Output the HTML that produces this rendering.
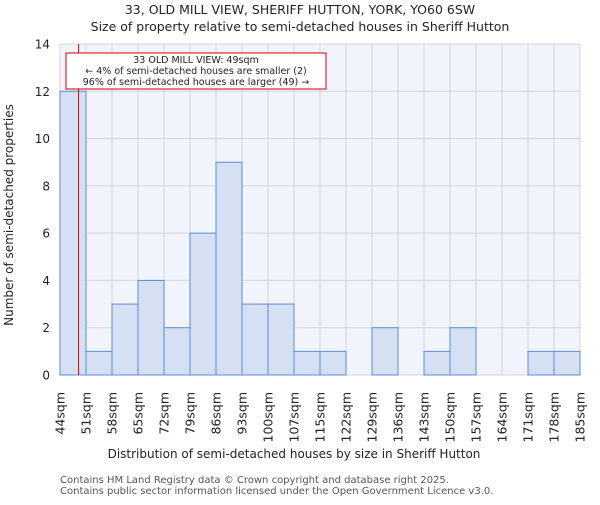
<!DOCTYPE html>
<html><head><meta charset="utf-8"><style>
body{margin:0;background:#fff;}
svg text{font-family:"DejaVu Sans","Liberation Sans",sans-serif;fill:#222;}
</style></head><body>
<svg width="600" height="500" xmlns="http://www.w3.org/2000/svg">
<text x="300" y="14" font-size="12.5" text-anchor="middle">33, OLD MILL VIEW, SHERIFF HUTTON, YORK, YO60 6SW</text>
<text x="300" y="31" font-size="12.5" text-anchor="middle">Size of property relative to semi-detached houses in Sheriff Hutton</text>
<rect x="60" y="44" width="520" height="331" fill="#f1f4fc"/>
<g id="grid"></g>
<g id="bars"></g>
<g id="yticks"></g>
<g id="xticks"></g>
<line id="marker" y1="44" y2="375" stroke="#d00" stroke-width="1"/>
<g>
<rect x="66" y="53" width="260" height="36" fill="#fff" stroke="#c00" stroke-width="1"/>
<text x="196" y="63" font-size="9.5" text-anchor="middle">33 OLD MILL VIEW: 49sqm</text>
<text x="196" y="74" font-size="9.5" text-anchor="middle">← 4% of semi-detached houses are smaller (2)</text>
<text x="196" y="85" font-size="9.5" text-anchor="middle">96% of semi-detached houses are larger (49) →</text>
</g>
<text x="13" y="215" font-size="12" text-anchor="middle" transform="rotate(-90 13 215)">Number of semi-detached properties</text>
<text x="294" y="458" font-size="12" text-anchor="middle">Distribution of semi-detached houses by size in Sheriff Hutton</text>
<text x="60" y="483" font-size="10" style="fill:#555">Contains HM Land Registry data © Crown copyright and database right 2025.</text>
<text x="60" y="494" font-size="10" style="fill:#555">Contains public sector information licensed under the Open Government Licence v3.0.</text>
</svg>
<script>
const binEdges=[44,51,58,65,72,79,86,93,100,107,115,122,129,136,143,150,157,164,171,178,185];
const tickLabels=["44sqm","51sqm","58sqm","65sqm","72sqm","79sqm","86sqm","93sqm","100sqm","107sqm","115sqm","122sqm","129sqm","136sqm","143sqm","150sqm","157sqm","164sqm","171sqm","178sqm","185sqm"];
const counts=[12,1,3,4,2,6,9,3,3,1,1,0,2,0,1,2,0,0,1,1];
const yTicks=[0,2,4,6,8,10,12,14];
const propertySize=49;
const NS="http://www.w3.org/2000/svg";
const X0=60,X1=580,Y0=375,Y1=44,YMAX=14;
const xi=i=>X0+i*(X1-X0)/(binEdges.length-1);
const xv=v=>{for(let i=0;i<binEdges.length-1;i++){if(v<=binEdges[i+1])return xi(i)+(v-binEdges[i])/(binEdges[i+1]-binEdges[i])*(xi(i+1)-xi(i));}return X1;};
const y=v=>Y0-v/YMAX*(Y0-Y1);
function mk(t,a,p){const e=document.createElementNS(NS,t);for(const k in a)e.setAttribute(k,a[k]);p.appendChild(e);return e;}
const grid=document.getElementById('grid'),bars=document.getElementById('bars'),yt=document.getElementById('yticks'),xt=document.getElementById('xticks');
binEdges.forEach((b,i)=>{const l=mk('line',{x1:xi(i),x2:xi(i),y1:Y1,y2:Y0,stroke:'#d4d4d8','stroke-width':1},grid);


const t=mk('text',{x:0,y:0,'font-size':12.5,'text-anchor':'end',transform:`translate(${xi(i)+4.5},${Y0+17}) rotate(-90)`},xt);
t.textContent=tickLabels[i];

});
yTicks.forEach(v=>{const l=mk('line',{x1:X0,x2:X1,y1:y(v),y2:y(v),stroke:'#d4d4d8','stroke-width':1},grid);


const t=mk('text',{x:X0-10,y:y(v)+4.5,'font-size':12,'text-anchor':'end'},yt);
t.textContent=v;

});
counts.forEach((c,i)=>{if(c<=0)return;const r=mk('rect',{x:xi(i),y:y(c),width:xi(i+1)-xi(i),height:Y0-y(c),fill:'#d6e0f3',stroke:'#5b8dd8','stroke-width':1},bars);

});
const m=document.getElementById('marker');m.setAttribute('x1',xv(propertySize));m.setAttribute('x2',xv(propertySize));
</script>
</body></html>
